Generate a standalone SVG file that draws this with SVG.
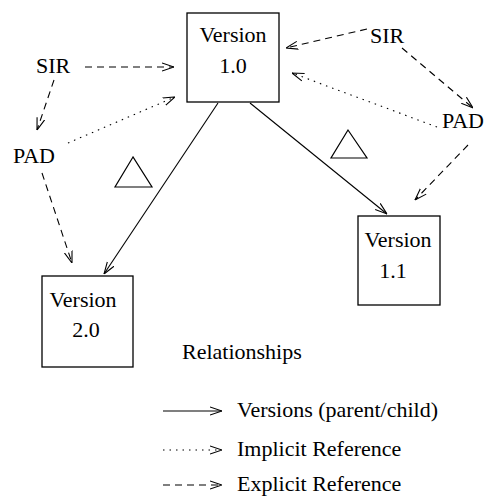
<svg xmlns="http://www.w3.org/2000/svg" width="487" height="496" viewBox="0 0 487 496">
<style>
text{font-family:'Liberation Serif','Times New Roman',serif;font-size:22px;fill:#000}
.box{fill:#fff;stroke:#000;stroke-width:1.3}
.c{fill:none;stroke:#000;stroke-width:1.1}
.dash{stroke-dasharray:7 5}
.dot{stroke-dasharray:1.5 5}
.tri{fill:none;stroke:#000;stroke-width:1.2}
</style>
<defs>
<marker id="ah" viewBox="0 0 12 10" refX="12" refY="5" markerWidth="12" markerHeight="10" markerUnits="userSpaceOnUse" orient="auto">
<path d="M0,1 L12,5 L0,9" fill="none" stroke="#000" stroke-width="1.1"/>
</marker>
</defs>
<rect width="487" height="496" fill="#fff"/>
<g id="connectors">
<line class="c" x1="218" y1="103" x2="104" y2="274" marker-end="url(#ah)"/>
<line class="c" x1="250" y1="103" x2="387" y2="214" marker-end="url(#ah)"/>
<line class="c dash" x1="85" y1="67" x2="174" y2="67" marker-end="url(#ah)"/>
<line class="c dash" x1="54" y1="80" x2="37" y2="130" marker-end="url(#ah)"/>
<line class="c dot" x1="68" y1="143" x2="175" y2="97" marker-end="url(#ah)"/>
<line class="c dash" x1="42" y1="173" x2="72" y2="263" marker-end="url(#ah)"/>
<line class="c dash" x1="367" y1="29" x2="286" y2="48" marker-end="url(#ah)"/>
<line class="c dash" x1="402" y1="48" x2="473" y2="108" marker-end="url(#ah)"/>
<line class="c dot" x1="437" y1="127" x2="292" y2="73" marker-end="url(#ah)"/>
<line class="c dash" x1="468" y1="145" x2="415" y2="200" marker-end="url(#ah)"/>
</g>
<g id="v10">
<rect class="box" x="187" y="13" width="92" height="89"/>
<text x="233" y="42" text-anchor="middle">Version</text>
<text x="233" y="73" text-anchor="middle">1.0</text>
</g>
<g id="v11">
<rect class="box" x="358" y="216" width="82" height="89"/>
<text x="398" y="247" text-anchor="middle">Version</text>
<text x="393" y="278" text-anchor="middle">1.1</text>
</g>
<g id="v20">
<rect class="box" x="42" y="276" width="91" height="91"/>
<text x="83" y="307" text-anchor="middle">Version</text>
<text x="86" y="337" text-anchor="middle">2.0</text>
</g>
<g id="sir-left"><text x="36" y="73">SIR</text></g>
<g id="pad-left"><text x="13" y="163">PAD</text></g>
<g id="sir-right"><text x="370" y="43">SIR</text></g>
<g id="pad-right"><text x="442" y="128">PAD</text></g>
<g id="tri-left"><polygon class="tri" points="133,157 115,187 152,187"/></g>
<g id="tri-right"><polygon class="tri" points="348,130 331,158 367,158"/></g>
<g id="legend">
<text x="182" y="359">Relationships</text>
<line class="c" x1="163" y1="411" x2="222" y2="411" marker-end="url(#ah)"/>
<text x="237" y="417">Versions (parent/child)</text>
<line class="c dot" x1="163" y1="450" x2="222" y2="450" marker-end="url(#ah)"/>
<text x="237" y="456">Implicit Reference</text>
<line class="c dash" x1="163" y1="485" x2="222" y2="485" marker-end="url(#ah)"/>
<text x="237" y="491">Explicit Reference</text>
</g>
</svg>
